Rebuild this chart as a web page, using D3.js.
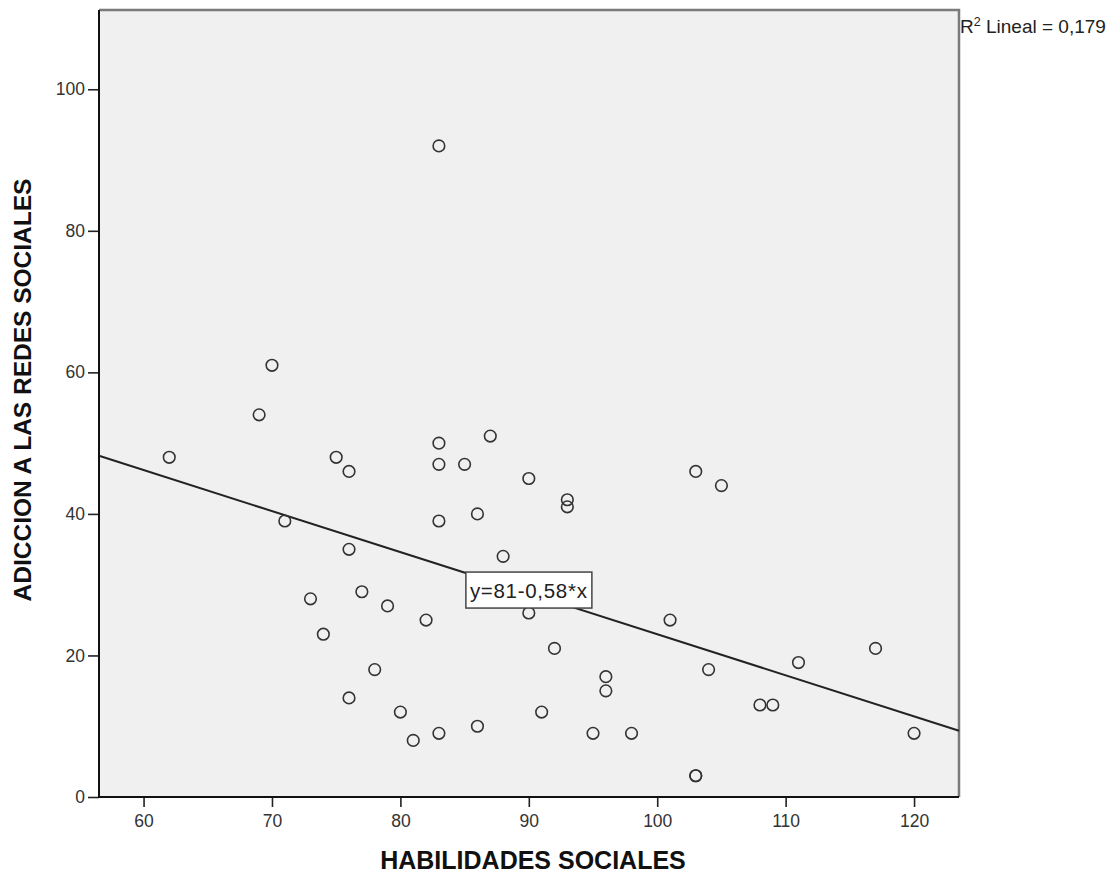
<!DOCTYPE html>
<html>
<head>
<meta charset="utf-8">
<script src="https://cdn.jsdelivr.net/npm/d3@7"></script>
<style>
  body { margin: 0; background: #fff; }
  svg text { font-family: "Liberation Sans", Arial, sans-serif; }
</style>
</head>
<body>
<div class="chart"></div>
<script>
// habilidades sociales (x) vs adiccion a las redes sociales (y)
const habilidades = [62, 70, 69, 71, 73, 74, 75, 76, 76, 76, 77, 78, 79, 80, 81, 82,
    83, 83, 83, 83, 83, 85, 86, 86, 87, 88, 90, 90, 91, 92, 93, 93, 95, 96, 96,
    98, 101, 103, 103, 103, 104, 105, 108, 109, 111, 117, 120];
const adiccion = [48, 61, 54, 39, 28, 23, 48, 46, 35, 14, 29, 18, 27, 12, 8, 25,
    92, 50, 47, 39, 9, 47, 40, 10, 51, 34, 45, 26, 12, 21, 42, 41, 9, 17, 15,
    9, 25, 46, 3, 3, 18, 44, 13, 13, 19, 21, 9];

const xTicks = [60, 70, 80, 90, 100, 110, 120];
const yTicks = [0, 20, 40, 60, 80, 100];

const intercept = 81;
const slope = -0.58;
const fitLabel = 'y=81-0,58*x';
const r2Label = '0,179';

const settings = {
    width: 1114,
    height: 877,
    left: 99,
    right: 959,
    top: 10,
    bottom: 797
};

const points = habilidades.map((h, i) => ({ x: h, y: adiccion[i] }));

const svg = d3.select('.chart')
    .append('svg')
    .attr('width', settings.width)
    .attr('height', settings.height);

const x = d3.scaleLinear()
    .domain([56.53, 123.5])
    .range([settings.left, settings.right]);

const y = d3.scaleLinear()
    .domain([0, 111.2])
    .range([settings.bottom, settings.top]);

// plot background
svg.append('rect')
    .attr('x', settings.left)
    .attr('y', settings.top)
    .attr('width', settings.right - settings.left)
    .attr('height', settings.bottom - settings.top)
    .attr('fill', '#f0f0f0');

// grey frame on top and right
svg.append('path')
    .attr('d', `M${settings.left},${settings.top}H${settings.right}V${settings.bottom}`)
    .attr('fill', 'none')
    .attr('stroke', '#7a7a7a')
    .attr('stroke-width', 2.5);

// fit line
const line = d3.line().x(d => x(d)).y(d => y(intercept + slope * d));
svg.append('path')
    .attr('d', line(x.domain()))
    .attr('fill', 'none')
    .attr('stroke', '#222')
    .attr('stroke-width', 2);

// points
svg.selectAll('circle.pt')
    .data(points)
    .enter()
    .append('circle')
    .attr('class', 'pt')
    .attr('cx', d => x(d.x))
    .attr('cy', d => y(d.y))
    .attr('r', 5.8)
    .attr('fill', 'none')
    .attr('stroke', '#333')
    .attr('stroke-width', 1.6);

// equation label box anchored on the line
const labelX = 85.1;
const bx = x(labelX);
const by = y(intercept + slope * labelX);
svg.append('rect')
    .attr('x', bx)
    .attr('y', by - 1)
    .attr('width', 126)
    .attr('height', 36)
    .attr('fill', '#fff')
    .attr('stroke', '#444')
    .attr('stroke-width', 1.5);
svg.append('text')
    .attr('x', bx + 4)
    .attr('y', by + 25)
    .attr('font-size', 20.5)
    .attr('fill', '#222')
    .attr('textLength', 117)
    .text(fitLabel);

// axes
const xAxis = svg.append('g')
    .attr('transform', `translate(0,${settings.bottom})`)
    .call(d3.axisBottom(x).tickValues(xTicks).tickSize(10).tickPadding(8));
const yAxis = svg.append('g')
    .attr('transform', `translate(${settings.left},0)`)
    .call(d3.axisLeft(y).tickValues(yTicks).tickSize(11).tickPadding(3));

[xAxis, yAxis].forEach(g => {
    g.select('.domain').remove();
    g.selectAll('line').attr('stroke', '#222').attr('stroke-width', 1.6);
    g.selectAll('text')
        .attr('font-size', 17.5)
        .attr('fill', '#333')
        .style('font-family', '"Liberation Sans", Arial, sans-serif');
});

svg.append('path')
    .attr('d', `M${settings.left},${settings.top}V${settings.bottom}H${settings.right}`)
    .attr('fill', 'none')
    .attr('stroke', '#111')
    .attr('stroke-width', 2);

// titles
svg.append('text')
    .attr('x', 533)
    .attr('y', 869)
    .attr('text-anchor', 'middle')
    .attr('font-size', 25)
    .attr('font-weight', 'bold')
    .attr('fill', '#111')
    .text('HABILIDADES SOCIALES');

svg.append('text')
    .attr('transform', 'translate(31,390) rotate(-90)')
    .attr('text-anchor', 'middle')
    .attr('font-size', 24.5)
    .attr('font-weight', 'bold')
    .attr('fill', '#111')
    .text('ADICCION A LAS REDES SOCIALES');

// R2 note
const r2 = svg.append('text')
    .attr('x', settings.right + 1)
    .attr('y', 33)
    .attr('font-size', 19)
    .attr('fill', '#222');
r2.append('tspan').text('R');
r2.append('tspan').attr('font-size', 12.5).attr('dy', -7).text('2');
r2.append('tspan').attr('dy', 7).text(' Lineal = ' + r2Label);
</script>
</body>
</html>
